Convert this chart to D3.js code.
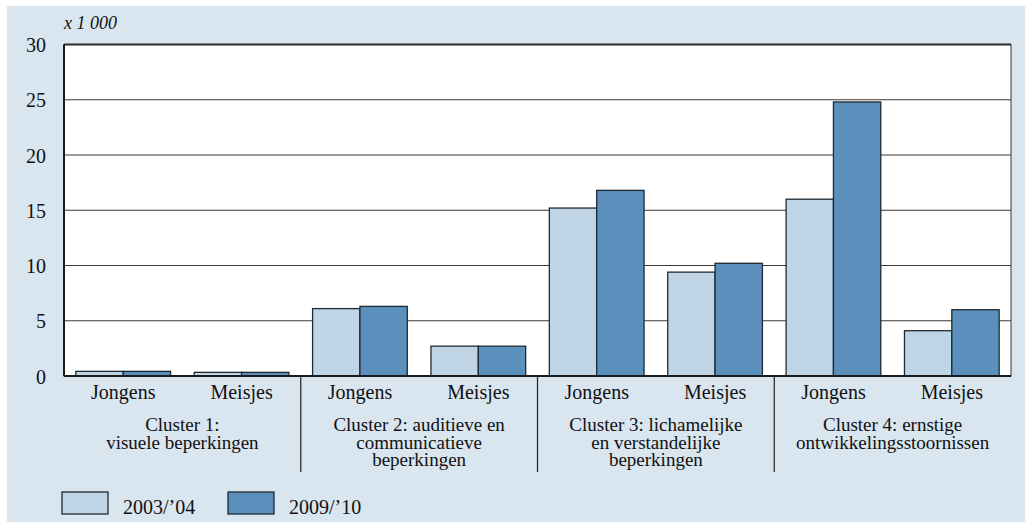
<!DOCTYPE html>
<html>
<head>
<meta charset="utf-8">
<script src="https://cdn.jsdelivr.net/npm/d3@7"></script>
<style>
  body { margin: 0; background: #fff; }
  svg { display: block; font-family: "Liberation Serif", "DejaVu Serif", serif; }
</style>
</head>
<body>
<svg width="1025" height="522"></svg>
<script>
// data (x 1 000 pupils)
var clusters = ["Cluster 1:|visuele beperkingen",
                "Cluster 2: auditieve en|communicatieve|beperkingen",
                "Cluster 3: lichamelijke|en verstandelijke|beperkingen",
                "Cluster 4: ernstige|ontwikkelingsstoornissen"];
var sexes = ["Jongens", "Meisjes"];
var years = ["2003/\u201904", "2009/\u201910"];
var values2003 = [0.42, 0.33, 6.1, 2.7, 15.2, 9.4, 16.0, 4.1];
var values2009 = [0.42, 0.33, 6.3, 2.7, 16.8, 10.2, 24.8, 6.0];
var yTicks = [0, 5, 10, 15, 20, 25, 30];

var svg = d3.select("svg");
var colors = ["#bfd4e5", "#5a90bb"];
var fs = 20;

// background panel
svg.append("rect").attr("x", 7).attr("y", 6).attr("width", 1018).attr("height", 516)
  .attr("fill", "#d9e5ef");

var plotL = 64, plotR = 1011, plotT = 44.5, plotB = 376;

// build subgroup table
var rows = [];
clusters.forEach(function(c, ci) {
  sexes.forEach(function(s, si) {
    var k = ci * 2 + si;
    rows.push({ key: "g" + k, cluster: ci, sex: s, vals: [values2003[k], values2009[k]] });
  });
});

var x = d3.scaleBand().domain(rows.map(function(d) { return d.key; }))
  .range([plotL, plotR]).paddingInner(0).paddingOuter(0);
var xi = d3.scaleBand().domain([0, 1]).range([0, x.bandwidth()]).paddingOuter(0.25).paddingInner(0);
var y = d3.scaleLinear().domain([0, 30]).range([plotB, plotT]);

// plot area
svg.append("rect").attr("x", plotL).attr("y", plotT).attr("width", plotR - plotL).attr("height", plotB - plotT)
  .attr("fill", "#fff").attr("stroke", "#333").attr("stroke-width", 1);

// gridlines
svg.append("g").selectAll("line").data(yTicks.filter(function(t) { return t > 0 && t < 30; }))
  .enter().append("line")
  .attr("x1", plotL).attr("x2", plotR)
  .attr("y1", function(d) { return y(d); }).attr("y2", function(d) { return y(d); })
  .attr("stroke", "#3a3a3a").attr("stroke-width", 1);

// bars
var grp = svg.append("g").selectAll("g").data(rows).enter().append("g")
  .attr("transform", function(d) { return "translate(" + x(d.key) + ",0)"; });
grp.selectAll("rect").data(function(d) { return d.vals; }).enter().append("rect")
  .attr("x", function(d, i) { return xi(i); })
  .attr("width", xi.bandwidth())
  .attr("y", function(d) { return y(d); })
  .attr("height", function(d) { return y(0) - y(d); })
  .attr("fill", function(d, i) { return colors[i]; })
  .attr("stroke", "#1e2a33").attr("stroke-width", 1.3);

// frame lines on top
svg.append("line").attr("x1", plotL).attr("x2", plotR).attr("y1", plotT).attr("y2", plotT)
  .attr("stroke", "#2a2a2a").attr("stroke-width", 2);
svg.append("line").attr("x1", plotL).attr("x2", plotL).attr("y1", plotT).attr("y2", plotB)
  .attr("stroke", "#1a1a1a").attr("stroke-width", 2);
svg.append("line").attr("x1", plotL).attr("x2", plotR).attr("y1", plotB).attr("y2", plotB)
  .attr("stroke", "#1a1a1a").attr("stroke-width", 2);

// y axis labels
var yAxis = d3.axisLeft(y).tickValues(yTicks).tickSize(0).tickPadding(18);
var ya = svg.append("g").attr("transform", "translate(" + plotL + ",0)").call(yAxis);
ya.select(".domain").remove();
ya.selectAll("text").attr("font-size", fs).attr("fill", "#111")
  .attr("font-family", "Liberation Serif, serif").attr("dy", "0.35em");

svg.append("text").attr("x", plotL).attr("y", 29).attr("font-size", 18).attr("font-style", "italic")
  .attr("fill", "#111").text("x 1 000");

// subgroup labels
var xAxis = d3.axisBottom(x).tickSize(0).tickPadding(9).tickFormat(function(k) {
  return rows.find(function(r) { return r.key === k; }).sex;
});
var xa = svg.append("g").attr("transform", "translate(0," + plotB + ")").call(xAxis);
xa.select(".domain").remove();
xa.selectAll("text").attr("font-size", fs).attr("fill", "#111")
  .attr("font-family", "Liberation Serif, serif");

// cluster dividers
var dividers = [1, 2, 3];
svg.append("g").selectAll("line").data(dividers).enter().append("line")
  .attr("x1", function(d) { return x("g" + d * 2); }).attr("x2", function(d) { return x("g" + d * 2); })
  .attr("y1", plotB).attr("y2", 472)
  .attr("stroke", "#222").attr("stroke-width", 1.2);

// cluster labels
var cl = svg.append("g").selectAll("text").data(clusters).enter().append("text")
  .attr("text-anchor", "middle").attr("font-size", 19).attr("fill", "#111")
  .attr("x", function(d, i) { return (x("g" + i * 2) + x("g" + (i * 2 + 1)) + x.bandwidth()) / 2; })
  .attr("y", 431);
cl.selectAll("tspan").data(function(d) { return d.split("|"); }).enter().append("tspan")
  .attr("x", function() { return d3.select(this.parentNode).attr("x"); })
  .attr("dy", function(d, i) { return i === 0 ? 0 : 17.5; })
  .text(function(d) { return d; });

// legend
var legendX = [62, 228];
var lg = svg.append("g").selectAll("g").data(years).enter().append("g")
  .attr("transform", function(d, i) { return "translate(" + legendX[i] + ",492)"; });
lg.append("rect").attr("width", 46).attr("height", 22)
  .attr("fill", function(d, i) { return colors[i]; })
  .attr("stroke", "#1e2a33").attr("stroke-width", 1.3);
lg.append("text").attr("x", 61).attr("y", 22).attr("font-size", fs).attr("fill", "#111")
  .text(function(d) { return d; });
</script>
</body>
</html>
